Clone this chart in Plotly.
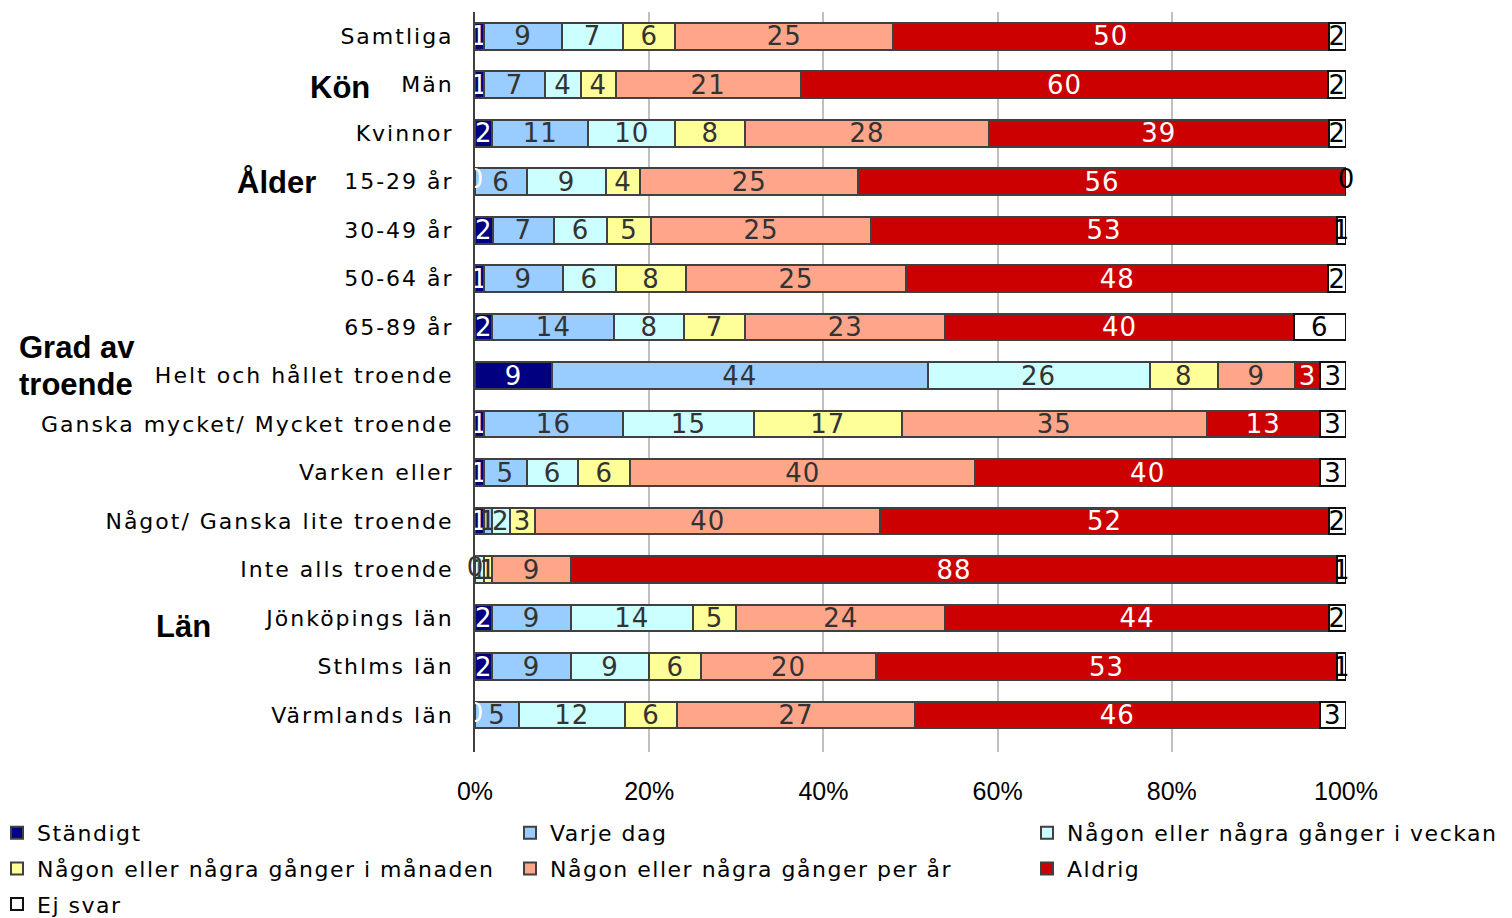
import plotly.graph_objects as go

categories = [
    "Samtliga", "Män", "Kvinnor", "15-29 år", "30-49 år", "50-64 år", "65-89 år",
    "Helt och hållet troende", "Ganska mycket/ Mycket troende", "Varken eller",
    "Något/ Ganska lite troende", "Inte alls troende",
    "Jönköpings län", "Sthlms län", "Värmlands län",
]

series_names = [
    "Ständigt", "Varje dag", "Någon eller några gånger i veckan",
    "Någon eller några gånger i månaden", "Någon eller några gånger per år",
    "Aldrig", "Ej svar",
]

standigt = [1, 1, 2, 0, 2, 1, 2, 9, 1, 1, 1, 0, 2, 2, 0]
varje_dag = [9, 7, 11, 6, 7, 9, 14, 44, 16, 5, 1, 0, 9, 9, 5]
veckan = [7, 4, 10, 9, 6, 6, 8, 26, 15, 6, 2, 1, 14, 9, 12]
manaden = [6, 4, 8, 4, 5, 8, 7, 8, 17, 6, 3, 1, 5, 6, 6]
per_ar = [25, 21, 28, 25, 25, 25, 23, 9, 35, 40, 40, 9, 24, 20, 27]
aldrig = [50, 60, 39, 56, 53, 48, 40, 3, 13, 40, 52, 88, 44, 53, 46]
ej_svar = [2, 2, 2, 0, 1, 2, 6, 3, 3, 3, 2, 1, 2, 1, 3]

group_labels = ["Kön", "Ålder", "Grad av", "troende", "Län"]
x_tick_values = [0, 20, 40, 60, 80, 100]
x_tick_labels = ["0%", "20%", "40%", "60%", "80%", "100%"]

values = [standigt, varje_dag, veckan, manaden, per_ar, aldrig, ej_svar]
colors = ["#000080", "#99CCFF", "#CCFFFF", "#FFFF99", "#FFA68A", "#CC0000", "#FFFFFF"]
text_colors = ["#FFFFFF", "#333333", "#333333", "#333333", "#333333", "#FFFFFF", "#000000"]
line_colors = ["#404040"] * 6 + ["#101010"]
legend_ids = ["legend", "legend2", "legend3", "legend", "legend2", "legend3", "legend"]

# plot area in pixels
W, H = 1512, 918
L, R, T, B = 475, 1346, 12, 752


def px_x(px):
    return (px - L) / (R - L)


def px_y(py):
    return (B - py) / (B - T)


fig = go.Figure()
for i, name in enumerate(series_names):
    fig.add_trace(go.Bar(
        name=name,
        y=categories,
        x=values[i],
        orientation="h",
        marker=dict(color=colors[i], line=dict(color=line_colors[i], width=2)),
        text=[str(v) for v in values[i]],
        texttemplate="%{text}",
        textposition="inside",
        insidetextanchor="middle",
        textangle=0,
        constraintext="none",
        cliponaxis=False,
        textfont=dict(family="DejaVu Sans", size=26, color=text_colors[i]),
        legend=legend_ids[i],
        legendgroup=name,
        hoverinfo="skip",
    ))

# labels for zero-valued segments (plotly does not draw text on empty bars)
zx, zy, zc = [], [], []
for r, cat in enumerate(categories):
    total = sum(v[r] for v in values)
    cum = 0
    for i in range(len(values)):
        v = values[i][r]
        if v == 0:
            zx.append(100.0 * cum / total)
            zy.append(cat)
            zc.append(text_colors[i])
        cum += v
fig.add_trace(go.Scatter(
    x=zx, y=zy, mode="text", text=["0"] * len(zx),
    textposition="middle center",
    textfont=dict(family="DejaVu Sans", size=26, color=zc),
    showlegend=False, cliponaxis=False, hoverinfo="skip",
))

legend_common = dict(
    orientation="v", xanchor="left", yanchor="top",
    font=dict(family="DejaVu Sans", size=22, color="black"),
    bgcolor="rgba(0,0,0,0)", tracegroupgap=4, itemclick=False,
)
leg_y = px_y(812)

annotations = [
    dict(text=group_labels[0], x=px_x(372), y=px_y(88), xanchor="right", yanchor="middle"),
    dict(text=group_labels[1], x=px_x(318), y=px_y(182), xanchor="right", yanchor="middle"),
    dict(text=group_labels[2], x=px_x(17), y=px_y(347), xanchor="left", yanchor="middle"),
    dict(text=group_labels[3], x=px_x(17), y=px_y(384), xanchor="left", yanchor="middle"),
    dict(text=group_labels[4], x=px_x(154), y=px_y(626), xanchor="left", yanchor="middle"),
]
for a in annotations:
    a.update(xref="paper", yref="paper", showarrow=False,
             font=dict(family="Liberation Sans", size=31, color="black", weight=700))

fig.update_layout(
    width=W, height=H,
    barmode="stack", barnorm="percent", bargap=0.45,
    plot_bgcolor="white", paper_bgcolor="white",
    margin=dict(l=L, r=W - R, t=T, b=H - B, autoexpand=False, pad=0),
    font=dict(family="DejaVu Sans", size=20, color="black"),
    uniformtext=dict(minsize=26, mode="show"),
    xaxis=dict(
        range=[0, 100], tickmode="array", tickvals=x_tick_values, ticktext=x_tick_labels,
        showgrid=True, gridcolor="#C0C0C0", gridwidth=2,
        zeroline=False, showline=False, ticks="",
        tickfont=dict(family="Liberation Sans", size=25, color="black"),
        ticklabelstandoff=22, fixedrange=True,
    ),
    yaxis=dict(
        autorange="reversed", showline=True, linecolor="#404040", linewidth=2,
        ticks="", tickfont=dict(family="DejaVu Sans", size=22, color="black"),
        ticklabelstandoff=15, showgrid=False, fixedrange=True,
    ),
    legend=dict(legend_common, x=px_x(-3), y=leg_y),
    legend2=dict(legend_common, x=px_x(510), y=leg_y),
    legend3=dict(legend_common, x=px_x(1027), y=leg_y),
    annotations=annotations,
    showlegend=True,
)

post = """
document.body.style.margin = '0';
var st = document.createElement('style');
st.textContent = '.ytick text { letter-spacing: 2px !important; } ' +
  'text.legendtext, .infolayer g[class*="legend"] text { letter-spacing: 1.5px !important; } ' +
  'text.bartext { letter-spacing: 1px !important; } ' +
  '.infolayer [clip-path] { clip-path: none !important; }';
document.head.appendChild(st);
var gd = document.getElementById('{plot_id}');
function spacing(){
  gd.querySelectorAll('.infolayer text').forEach(function(t){
    var inAnn = t.closest('.annotation');
    if (!inAnn) { t.style.letterSpacing = '1.5px'; }
  });
}
spacing();
var n = 0;
var iv = setInterval(function(){ spacing(); n += 1; if (n > 100) { clearInterval(iv); } }, 50);
"""

fig.write_html("out.html", post_script=post, config={"displayModeBar": False})
